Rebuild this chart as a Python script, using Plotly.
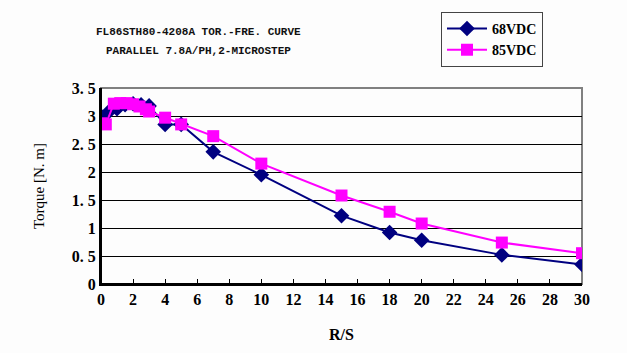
import plotly.graph_objects as go

x68 = [0, 0.5, 1, 1.5, 2, 2.5, 3, 4, 5, 7, 10, 15, 18, 20, 25, 30]
y68 = [3.0, 3.08, 3.13, 3.2, 3.22, 3.2, 3.18, 2.85, 2.85, 2.36, 1.95, 1.22, 0.92, 0.78, 0.52, 0.35]
x85 = [0, 0.3, 0.8, 1.2, 1.6, 2, 2.4, 2.8, 3, 4, 5, 7, 10, 15, 18, 20, 25, 30]
y85 = [2.87, 2.85, 3.22, 3.23, 3.23, 3.21, 3.17, 3.12, 3.08, 2.97, 2.85, 2.64, 2.15, 1.58, 1.29, 1.08, 0.74, 0.55]
xticks = list(range(0, 31, 2))
yticks = [0, 0.5, 1, 1.5, 2, 2.5, 3, 3.5]
yticklabels = ["0", "0. 5", "1", "1. 5", "2", "2. 5", "3", "3. 5"]

serif = "Liberation Serif"
mono = "Liberation Mono"

L, R, T, B = 101, 582, 83, 284
def px(xp):
    return (xp - L) / (R - L)
def py(yp):
    return (B - yp) / (B - T)

fig = go.Figure()
fig.add_trace(go.Scatter(x=x68, y=y68, mode="lines+markers", name="68VDC",
                         line=dict(color="#000080", width=2),
                         marker=dict(symbol="diamond", size=12, color="#000080")))
fig.add_trace(go.Scatter(x=x85, y=y85, mode="lines+markers", name="85VDC",
                         line=dict(color="#FF00FF", width=2),
                         marker=dict(symbol="square", size=12, color="#FF00FF")))

fig.update_layout(
    width=627, height=353,
    margin=dict(l=L, r=627 - R, t=T, b=353 - B),
    paper_bgcolor="#FDFDFD", plot_bgcolor="#FDFDFD",
    showlegend=True,
    legend=dict(x=px(441), y=py(5), xref="paper", yref="paper",
                xanchor="left", yanchor="top",
                bordercolor="#444444", borderwidth=1, bgcolor="#FDFDFD",
                font=dict(family=serif, size=14, color="black", weight="bold"),
                itemwidth=40, tracegroupgap=0),
    annotations=[
        dict(text="FL86STH80-4208A TOR.-FRE. CURVE", x=px(198), y=py(26),
             xref="paper", yref="paper", showarrow=False, xanchor="center", yanchor="middle",
             font=dict(family=mono, size=11, color="#111", weight="bold")),
        dict(text="PARALLEL 7.8A/PH,2-MICROSTEP", x=px(198), y=py(45),
             xref="paper", yref="paper", showarrow=False, xanchor="center", yanchor="middle",
             font=dict(family=mono, size=11, color="#111", weight="bold")),
    ],
    xaxis=dict(range=[0, 30], tickvals=xticks, ticktext=[str(t) for t in xticks],
               showgrid=False, zeroline=False,
               showline=True, linecolor="black", linewidth=2, mirror=False,
               ticks="inside", ticklen=5, tickcolor="black", tickwidth=1,
               tickfont=dict(family=serif, size=16, color="black", weight="bold"),
               title=dict(text="R/S", font=dict(family=serif, size=16, color="black", weight="bold"), standoff=22)),
    yaxis=dict(range=[0, 3.5], tickvals=yticks, ticktext=yticklabels,
               showgrid=True, gridcolor="black", gridwidth=1, zeroline=False,
               showline=True, linecolor="black", linewidth=2,
               ticks="", tickfont=dict(family=serif, size=16, color="black", weight="bold"),
               title=dict(text="Torque [N. m]", font=dict(family=serif, size=15, color="black"), standoff=24)),
)
fig.add_shape(type="rect", xref="paper", yref="paper", x0=0, y0=0, x1=1, y1=1,
              line=dict(color="#808080", width=2), layer="below")
fig.add_shape(type="line", xref="paper", yref="paper", x0=0, y0=0, x1=0, y1=1,
              line=dict(color="black", width=2))
fig.add_shape(type="line", xref="paper", yref="paper", x0=0, y0=0, x1=1, y1=0,
              line=dict(color="black", width=2))

fig.write_html("out.html")
